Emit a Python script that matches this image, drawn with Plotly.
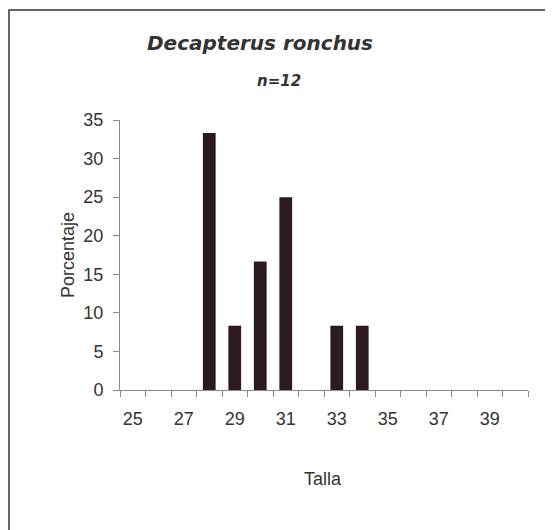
import plotly.graph_objects as go

# Data
tallas = list(range(25, 41))
porcentaje = [0, 0, 0, 33.33, 8.33, 16.67, 25.0, 0, 8.33, 8.33, 0, 0, 0, 0, 0, 0]
tick_labels = ["25", "27", "29", "31", "33", "35", "37", "39"]
tick_positions = [25, 27, 29, 31, 33, 35, 37, 39]
y_ticks = [0, 5, 10, 15, 20, 25, 30, 35]

# page has an 8px body margin; work in page pixels and convert
OFF = 8
W, H = 553 - OFF, 530 - OFF
L, R, T, B = 120 - OFF, 528 - OFF, 120 - OFF, 390 - OFF


def px(x):
    return (x - OFF - L) / (R - L)


def py(y):
    return (B - (y - OFF)) / (B - T)


fig = go.Figure()
fig.add_trace(go.Bar(
    x=tallas, y=porcentaje, width=0.5,
    marker=dict(color="#2b1b1f", line=dict(width=0)),
    showlegend=False,
))

font_tick = dict(family="Liberation Sans, Arial, sans-serif", size=18, color="#333333")

fig.update_layout(
    width=W, height=H,
    margin=dict(l=L, r=W - R, t=T, b=H - B, pad=0),
    paper_bgcolor="white", plot_bgcolor="white",
    xaxis=dict(
        range=[24.5, 40.5], tickmode="array", tickvals=tick_positions, ticktext=tick_labels,
        ticks="", showgrid=False, zeroline=False, showline=True, linecolor="#8a8a8a", linewidth=1,
        tickfont=font_tick, ticklabelstandoff=12,
        minor=dict(tickmode="array", tickvals=[v + 0.5 for v in range(24, 41)],
                   ticks="outside", ticklen=6, tickcolor="#8a8a8a", showgrid=False),
    ),
    yaxis=dict(
        range=[0, 35], tickmode="array", tickvals=y_ticks, ticks="outside", ticklen=6,
        tickcolor="#8a8a8a", showgrid=False, zeroline=False, showline=True,
        linecolor="#8a8a8a", linewidth=1, tickfont=font_tick, ticklabelstandoff=6,
    ),
    font=dict(family="Liberation Sans, Arial, sans-serif", color="#333333"),
    shapes=[dict(type="rect", xref="paper", yref="paper",
                 x0=px(9), x1=px(549), y0=py(545), y1=py(10),
                 line=dict(color="#3a3035", width=1.5), fillcolor="rgba(0,0,0,0)", layer="below")],
    annotations=[
        dict(text="<b><i>Decapterus ronchus</i></b>", xref="paper", yref="paper",
             x=px(260), y=py(43), showarrow=False, xanchor="center", yanchor="middle",
             font=dict(family="DejaVu Sans", size=20, color="#333333")),
        dict(text="<b><i>n=12</i></b>", xref="paper", yref="paper",
             x=px(279), y=py(81), showarrow=False, xanchor="center", yanchor="middle",
             font=dict(family="DejaVu Sans", size=15, color="#333333")),
        dict(text="Porcentaje", xref="paper", yref="paper", textangle=-90,
             x=px(68), y=py(255), showarrow=False, xanchor="center", yanchor="middle",
             font=dict(family="Liberation Sans, Arial, sans-serif", size=18, color="#333333")),
        dict(text="Talla", xref="paper", yref="paper",
             x=px(323), y=py(479), showarrow=False, xanchor="center", yanchor="middle",
             font=dict(family="Liberation Sans, Arial, sans-serif", size=18, color="#333333")),
    ],
)

fig.write_html("out.html")
